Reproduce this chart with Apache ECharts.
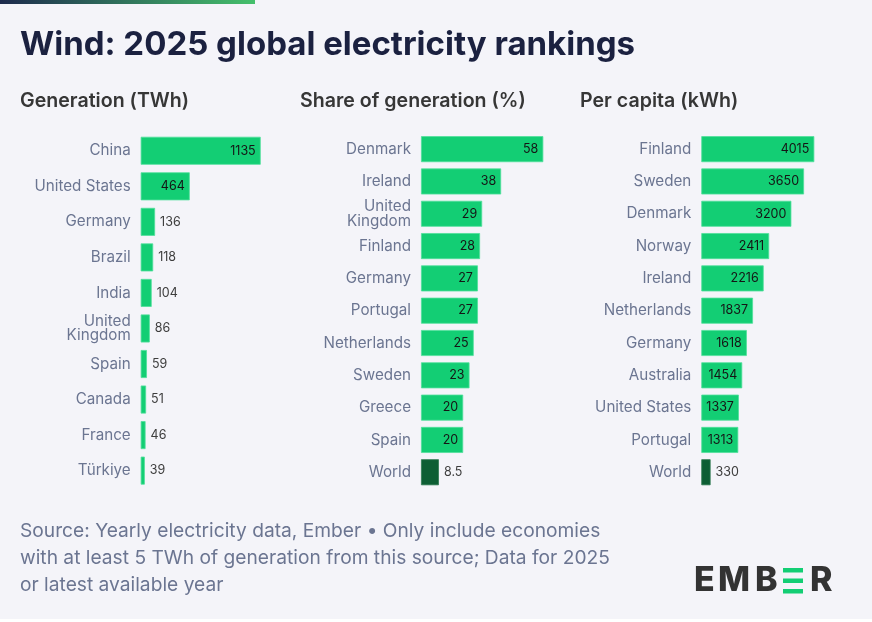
<!DOCTYPE html>
<html>
<head>
<meta charset="utf-8">
<script src="https://cdn.jsdelivr.net/npm/echarts@6/dist/echarts.min.js"></script>
<style>
html,body{margin:0;padding:0;background:#ffffff;}
#chart{width:872px;height:622px;}
</style>
</head>
<body>
<div id="chart"></div>
<script>
// ---- Data ----
const titleText = 'Wind: 2025 global electricity rankings';
const panelTitles = ['Generation (TWh)', 'Share of generation (%)', 'Per capita (kWh)'];

const genCountries = ['China','United States','Germany','Brazil','India','United Kingdom','Spain','Canada','France','Türkiye'];
const genValues = [1135,464,136,118,104,86,59,51,46,39];

const shareCountries = ['Denmark','Ireland','United Kingdom','Finland','Germany','Portugal','Netherlands','Sweden','Greece','Spain','World'];
const shareValues = [58,38,29,28,27,27,25,23,20,20,8.5];

const capitaCountries = ['Finland','Sweden','Denmark','Norway','Ireland','Netherlands','Germany','Australia','United States','Portugal','World'];
const capitaValues = [4015,3650,3200,2411,2216,1837,1618,1454,1337,1313,330];

const sourceLines = [
  'Source: Yearly electricity data, Ember \u2022 Only include economies',
  'with at least 5 TWh of generation from this source; Data for 2025',
  'or latest available year'
];

// ---- Styling ----
const FONT = 'Inter, "Noto Sans", sans-serif';
const GREEN = '#13CE74';
const DARK_GREEN = '#0d5e34';
const LABEL_GREY = '#6b7591';

const chart = echarts.init(document.getElementById('chart'), null, {renderer:'canvas'});

const panels = [
  {cats: genCountries, vals: genValues, left: 140.7, width: 120, barWidth: 28},
  {cats: shareCountries, vals: shareValues, left: 421, width: 122.3, barWidth: 26},
  {cats: capitaCountries, vals: capitaValues, left: 701.3, width: 113, barWidth: 26}
];

function buildData(cats, vals) {
  const max = Math.max.apply(null, vals);
  return vals.map((v, i) => {
    const inside = v / max > 0.25;
    const isWorld = cats[i] === 'World';
    return {
      value: v,
      itemStyle: {color: isWorld ? DARK_GREEN : GREEN, borderColor: isWorld ? '#2f7a52' : '#4fe09a', borderWidth: 0.8},
      label: {
        show: true,
        position: inside ? 'insideRight' : 'right',
        distance: 5,
        color: inside ? '#151515' : '#3d3d3d',
        fontSize: 12.5,
        fontFamily: FONT
      }
    };
  });
}

const grids = [], xAxes = [], yAxes = [], series = [];
panels.forEach((p, idx) => {
  grids.push({left: p.left, top: 133, width: p.width, height: 355.4, containLabel: false});
  xAxes.push({type: 'value', gridIndex: idx, min: 0, max: 'dataMax', show: false});
  yAxes.push({
    type: 'category', gridIndex: idx, inverse: true, data: p.cats,
    axisLine: {show: false}, axisTick: {show: false},
    axisLabel: {
      margin: 10, color: LABEL_GREY, fontSize: 15.2, fontFamily: FONT, lineHeight: 14.5,
      formatter: v => v === 'United Kingdom' ? 'United\nKingdom' : v
    }
  });
  series.push({
    type: 'bar', xAxisIndex: idx, yAxisIndex: idx, barWidth: p.barWidth,
    data: buildData(p.cats, p.vals), animation: false
  });
});

const graphics = [
  {type: 'rect', shape: {x: 0, y: 0, width: 872, height: 619}, style: {fill: '#f4f4f9'}, z: -10, silent: true},
  {type: 'rect', shape: {x: 0, y: 0, width: 255, height: 4},
   style: {fill: new echarts.graphic.LinearGradient(0, 0, 1, 0, [{offset: 0, color: '#1d2a4d'}, {offset: 1, color: '#45c06c'}])}},
  {type: 'text', x: 20, y: 45, style: {text: titleText, fill: '#1b2140', font: '700 33px ' + FONT, verticalAlign: 'middle'}},
  {type: 'text', x: 20, y: 101, style: {text: panelTitles[0], fill: '#363636', font: '600 19.6px ' + FONT, verticalAlign: 'middle'}},
  {type: 'text', x: 300, y: 101, style: {text: panelTitles[1], fill: '#363636', font: '600 19.6px ' + FONT, verticalAlign: 'middle'}},
  {type: 'text', x: 580, y: 101, style: {text: panelTitles[2], fill: '#363636', font: '600 19.6px ' + FONT, verticalAlign: 'middle'}}
];
sourceLines.forEach((t, i) => {
  graphics.push({type: 'text', x: 20, y: 531 + i * 27.3, style: {text: t, fill: LABEL_GREY, font: '400 19.2px ' + FONT, verticalAlign: 'middle'}});
});
// EMBER logo
const logoFont = '800 34px ' + FONT;
[['E', 694], ['M', 718], ['B', 755], ['R', 810]].forEach(([ch, x]) => {
  graphics.push({type: 'text', x: x, y: 580.5, style: {text: ch, fill: '#333333', font: logoFont, verticalAlign: 'middle'}});
});
[568, 578.5, 589].forEach(y => {
  graphics.push({type: 'rect', shape: {x: 783, y: y, width: 20, height: 4.5}, style: {fill: GREEN}});
});

chart.setOption({
  backgroundColor: '#ffffff',
  animation: false,
  grid: grids,
  xAxis: xAxes,
  yAxis: yAxes,
  series: series,
  graphic: graphics
});
</script>
</body>
</html>
